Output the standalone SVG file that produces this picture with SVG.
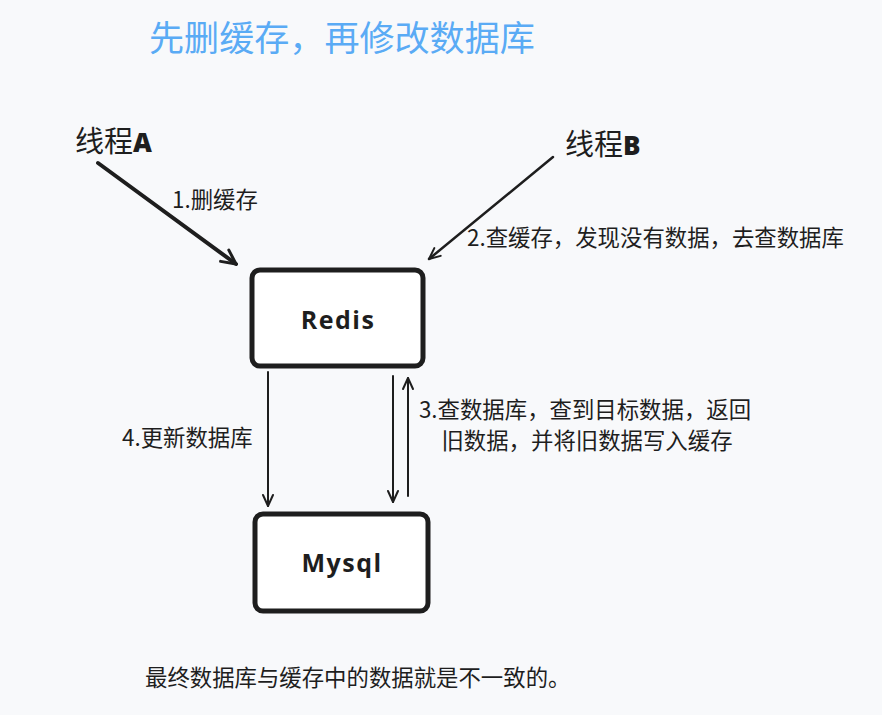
<svg xmlns="http://www.w3.org/2000/svg" width="882" height="715" viewBox="0 0 882 715">
<style>
.t{font-family:"Noto Sans CJK SC","Microsoft YaHei",sans-serif;fill:#1e1e1e;font-size:22.4px}
.hand{font-family:"Open Sans","DejaVu Sans",sans-serif;font-weight:700;fill:#1e1e1e}
.box{fill:#ffffff;stroke:#1e1e1e;stroke-width:5}
.ln{fill:none;stroke:#1e1e1e;stroke-linecap:round}
</style>
<defs>
<marker id="ah" markerUnits="userSpaceOnUse" markerWidth="30" markerHeight="30" refX="20" refY="10" orient="auto" viewBox="0 0 30 20">
<path d="M6,3 L20,10 L6,17" fill="none" stroke="#1e1e1e" stroke-width="3" stroke-linecap="round" stroke-linejoin="round"/>
</marker>
<marker id="ahs" markerUnits="userSpaceOnUse" markerWidth="24" markerHeight="24" refX="16" refY="8" orient="auto" viewBox="0 0 24 16">
<path d="M5,3 L16,8 L5,13" fill="none" stroke="#1e1e1e" stroke-width="2" stroke-linecap="round" stroke-linejoin="round"/>
</marker>
</defs>
<rect width="882" height="715" fill="#f8f9fb"/>
<text x="149" y="51" style="font-family:'Noto Sans CJK SC',sans-serif;font-size:35.1px;fill:#5aabf5">先删缓存，再修改数据库</text>
<g id="threadA"><text x="75" y="152" class="t" style="font-size:29px">线程<tspan class="hand" style="font-size:26px;font-weight:800">A</tspan></text></g>
<g id="threadB"><text x="565" y="155" class="t" style="font-size:29px">线程<tspan class="hand" style="font-size:26px;font-weight:800">B</tspan></text></g>
<g id="redis"><rect class="box" x="252" y="270" width="171" height="96" rx="8"/><text x="338" y="329" class="hand" style="font-size:25px;letter-spacing:1.5px" text-anchor="middle">Redis</text></g>
<g id="mysql"><rect class="box" x="255" y="514" width="173" height="97" rx="8"/><text x="342" y="572" class="hand" style="font-size:25px;letter-spacing:1.5px" text-anchor="middle">Mysql</text></g>
<g id="connectors">
<line class="ln" x1="98" y1="163" x2="236" y2="264" stroke-width="4" marker-end="url(#ah)"/>
<line class="ln" x1="553" y1="157" x2="429" y2="259" stroke-width="2.5" marker-end="url(#ahs)"/>
<line class="ln" x1="268" y1="372" x2="268" y2="506" stroke-width="2" marker-end="url(#ahs)"/>
<line class="ln" x1="393" y1="376" x2="393" y2="502" stroke-width="2" marker-end="url(#ahs)"/>
<line class="ln" x1="408" y1="496" x2="408" y2="378" stroke-width="2" marker-end="url(#ahs)"/>
</g>
<g id="labels">
<text x="172" y="208" class="t">1.删缓存</text>
<text x="467" y="246" class="t">2.查缓存，发现没有数据，去查数据库</text>
<text x="122" y="446" class="t">4.更新数据库</text>
<text x="585" y="418" class="t" text-anchor="middle">3.查数据库，查到目标数据，返回</text>
<text x="587" y="449" class="t" text-anchor="middle">旧数据，并将旧数据写入缓存</text>
<text x="145" y="686" class="t">最终数据库与缓存中的数据就是不一致的。</text>
</g>
</svg>
